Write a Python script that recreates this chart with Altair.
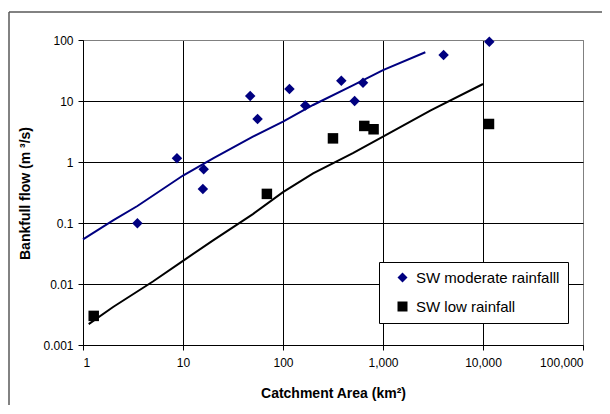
import altair as alt
import pandas as pd

# Observed points
mod_area = [3.5, 8.7, 15.8, 16.1, 47, 55.7, 116, 167, 383, 520, 631, 4036, 11560]
mod_flow = [0.099, 1.15, 0.36, 0.76, 12.1, 5.07, 15.7, 8.4, 21.5, 10.0, 20.0, 56.8, 93.8]
low_area = [1.28, 69, 316, 650, 805, 11480]
low_flow = [0.003, 0.30, 2.44, 3.9, 3.44, 4.2]

# Fitted curves
fit_mod_x = [1, 2, 3.5, 10, 20, 50, 100, 200, 500, 1000, 2650]
fit_mod_y = [0.054, 0.11, 0.19, 0.6, 1.15, 2.6, 4.6, 8.6, 18, 32, 63]
fit_low_x = [1.14, 2, 5, 10, 20, 50, 100, 200, 500, 1000, 3000, 10000]
fit_low_y = [0.0022, 0.0042, 0.011, 0.024, 0.052, 0.14, 0.32, 0.65, 1.4, 2.6, 7, 19]

series = ["SW moderate rainfalll", "SW low rainfall"]
x_ticks = [1, 10, 100, 1000, 10000, 100000]
y_ticks = [0.001, 0.01, 0.1, 1, 10, 100]

pts = pd.DataFrame({
    "area": mod_area + low_area,
    "flow": mod_flow + low_flow,
    "series": [series[0]] * len(mod_area) + [series[1]] * len(low_area),
})
fit_mod = pd.DataFrame({"area": fit_mod_x, "flow": fit_mod_y})
fit_low = pd.DataFrame({"area": fit_low_x, "flow": fit_low_y})

FONT = "Liberation Sans"

xscale = alt.Scale(type="log", domain=[1, 100000], nice=False)
yscale = alt.Scale(type="log", domain=[0.001, 100], nice=False)

grid_x = {"condition": {"test": "datum.value >= 100000", "value": "#808080"}, "value": "black"}
grid_y = {"condition": {"test": "datum.value >= 100", "value": "#808080"}, "value": "black"}

xaxis = alt.Axis(values=x_ticks, format=",", title="Catchment Area (km²)",
                 grid=True, gridColor=grid_x, gridWidth=1,
                 domainColor="black", tickColor="black", tickSize=5,
                 labelFont=FONT, labelFontSize=12, labelColor="black", labelPadding=7,
                 titleFont=FONT, titleFontSize=14, titleFontWeight="bold", titleColor="black",
                 titleX=250, titleY=48, titleBaseline="middle", titleAlign="center")
yaxis = alt.Axis(values=y_ticks, format="~g", title="Bankfull flow (m ³/s)",
                 grid=True, gridColor=grid_y, gridWidth=1,
                 domainColor="black", tickColor="black", tickSize=5,
                 labelFont=FONT, labelFontSize=12, labelColor="black", labelPadding=5,
                 titleFont=FONT, titleFontSize=14, titleFontWeight="bold", titleColor="black",
                 titleX=-58, titleY=153, titleBaseline="middle", titleAlign="center",
                 titleAngle=270)

line_mod = alt.Chart(fit_mod).mark_line(color="#000080", strokeWidth=2).encode(
    x=alt.X("area:Q", scale=xscale, axis=xaxis),
    y=alt.Y("flow:Q", scale=yscale, axis=yaxis),
)
line_low = alt.Chart(fit_low).mark_line(color="black", strokeWidth=2).encode(
    x=alt.X("area:Q", scale=xscale),
    y=alt.Y("flow:Q", scale=yscale),
)

points = alt.Chart(pts).mark_point(filled=True, opacity=1, size=110).encode(
    x=alt.X("area:Q", scale=xscale),
    y=alt.Y("flow:Q", scale=yscale),
    color=alt.Color("series:N", scale=alt.Scale(domain=series, range=["#000080", "black"]),
                    legend=alt.Legend(title=None, orient="none", legendX=296, legendY=222,
                                      strokeColor="black", fillColor="white", padding=8,
                                      symbolOffset=8, labelOffset=6, rowPadding=13,
                                      labelFont=FONT, labelFontSize=15, labelColor="black",
                                      symbolSize=100, labelLimit=300)),
    shape=alt.Shape("series:N", scale=alt.Scale(domain=series, range=["diamond", "square"])),
)

dummy = pd.DataFrame({"k": [0]})
frame_left = alt.Chart(dummy).mark_rule(color="#595959", strokeWidth=1.5).encode(
    x=alt.value(-74), y=alt.value(-28), y2=alt.value(400))
frame_top = alt.Chart(dummy).mark_rule(color="#595959", strokeWidth=1.5).encode(
    x=alt.value(-74), x2=alt.value(700), y=alt.value(-28))

chart = alt.layer(line_mod, line_low, points, frame_left, frame_top).properties(
    width=500, height=305,
    autosize=alt.AutoSizeParams(type="none"),
    padding={"left": 75, "top": 32, "right": 19, "bottom": 60},
    background="white",
).configure_view(stroke="#808080", strokeWidth=1)

chart.save("out.html", embed_options={"renderer": "svg", "actions": False})
